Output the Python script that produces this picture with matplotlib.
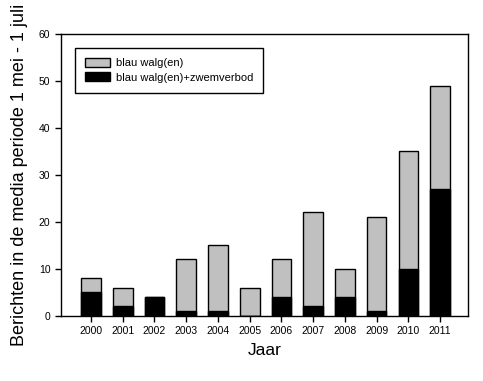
import matplotlib
matplotlib.use("Agg")
import matplotlib.pyplot as plt
import numpy as np

years = ["2000", "2001", "2002", "2003", "2004", "2005", "2006", "2007", "2008", "2009", "2010", "2011"]
total = [8, 6, 4, 12, 15, 6, 12, 22, 10, 21, 35, 49]
zwemverbod = [5, 2, 4, 1, 1, 0, 4, 2, 4, 1, 10, 27]

plt.rcParams['font.family'] = ['Liberation Sans', 'DejaVu Sans']

fig = plt.figure(figsize=(4.83, 3.81), dpi=100)
ax = fig.add_axes([0.126, 0.171, 0.843, 0.740])

x = np.arange(len(years))
w = 0.62
ax.bar(x, total, width=w, color='#c0c0c0', edgecolor='black', linewidth=1.0,
       label='blau walg(en)', zorder=2)
ax.bar(x, zwemverbod, width=w, color='black', edgecolor='black', linewidth=1.0,
       label='blau walg(en)+zwemverbod', zorder=3)

ax.set_xlim(-0.95, 11.88)
ax.set_ylim(0, 60)
ax.set_yticks([0, 10, 20, 30, 40, 50, 60])
ax.set_xticks(x)
ax.set_xticklabels(years)
ax.tick_params(axis='both', labelsize=7.5, direction='out', length=4, width=1)
for s in ax.spines.values():
    s.set_linewidth(1.0)

ax.set_xlabel('Jaar', fontsize=12.5, labelpad=5)
ax.set_ylabel('Berichten in de media periode 1 mei - 1 juli', fontsize=13, labelpad=8)

leg = ax.legend(loc='upper left', bbox_to_anchor=(0.02, 0.97), fontsize=8,
                frameon=True, fancybox=False, edgecolor='black', framealpha=1,
                handlelength=2.3, handleheight=0.9, handletextpad=0.5,
                borderpad=0.9, labelspacing=0.35)
leg.get_frame().set_linewidth(1.0)

fig.savefig('out.png', dpi=100)
